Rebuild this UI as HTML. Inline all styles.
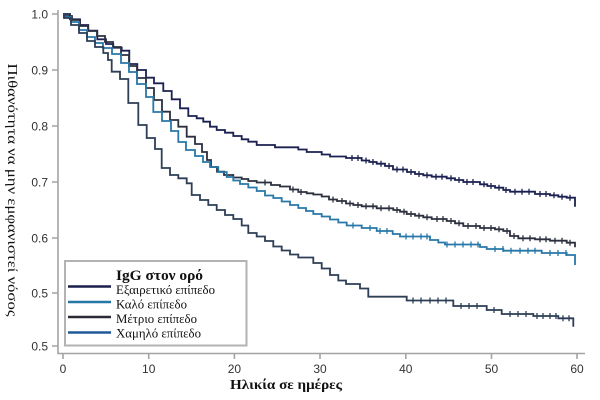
<!DOCTYPE html>
<html>
<head>
<meta charset="utf-8">
<style>
  html,body{margin:0;padding:0;background:#fff;}
  svg{display:block;}
  .tl{font-family:"Liberation Sans",sans-serif;font-size:12px;fill:#333;}
  .sf{font-family:"Liberation Serif",serif;fill:#111;}
</style>
</head>
<body>
<svg width="600" height="400" viewBox="0 0 600 400" xmlns="http://www.w3.org/2000/svg">
  <rect width="600" height="400" fill="#fff"/>

  <!-- axes -->
  <g stroke="#a3a3a3" stroke-width="1.6" fill="none">
    <path d="M58,10 V353.5 H585"/>
    <path d="M52,14 H58 M52,70 H58 M52,126 H58 M52,182 H58 M52,238 H58 M52,293 H58 M52,346 H58"/>
    <path d="M63,353 V359 M148.7,353 V359 M234.4,353 V359 M320,353 V359 M405.8,353 V359 M491.5,353 V359 M577,353 V359"/>
  </g>

  <!-- y tick labels -->
  <g class="tl" text-anchor="end">
    <text x="48" y="18.5">1.0</text>
    <text x="48" y="74.5">0.9</text>
    <text x="48" y="130.5">0.8</text>
    <text x="48" y="186.5">0.7</text>
    <text x="48" y="242.5">0.6</text>
    <text x="48" y="297.5">0.5</text>
    <text x="48" y="350.5">0.5</text>
  </g>
  <!-- x tick labels -->
  <g class="tl" text-anchor="middle">
    <text x="63" y="373">0</text>
    <text x="148.7" y="373">10</text>
    <text x="234.4" y="373">20</text>
    <text x="320" y="373">30</text>
    <text x="405.8" y="373">40</text>
    <text x="491.5" y="373">50</text>
    <text x="577" y="373">60</text>
  </g>

  <!-- axis titles -->
  <text class="sf" x="286" y="389" text-anchor="middle" font-size="13.5" font-weight="bold" textLength="112" lengthAdjust="spacingAndGlyphs">Ηλικία σε ημέρες</text>
  <text class="sf" transform="translate(8,190) rotate(90)" x="0" y="0" text-anchor="middle" font-size="13.5" textLength="253" lengthAdjust="spacingAndGlyphs">Πιθανότητα να μην εμφανιστεί νόσος</text>

  <!-- curves -->
  <g fill="none" stroke-width="1.8" stroke-linejoin="miter">
    <!-- Εξαιρετικό (navy) -->
    <path stroke="#1b2050" d="M63,14 H70 V19.3 H80 V25 H88.3 V30.7 H97.3 V39.3 H106 V44 H113.3 V47.7 H121.7 V50.7 H129.3 V64 H137.3 V70 H146 V77.7 H154 V83.3 H163.3 V91 H171.7 V99.3 H180 V108.3 H188.3 V116 H196.7 V118.3 H203.3 V121.7 H210 V126.7 H216.7 V130 H225 V132.7 H233.3 V136 H241.7 V139.3 H248.3 V141.7 H256.7 V145 H275 V147.3 H298.3 V149.5 H306.7 V152 H321.7 V154.5 H330 V156.5 H346 V158 H361.7 V160.5 H369.3 V162 H376.7 V163.7 H385 V166 H393 V169.5 H407 V172 H415 V174 H423.3 V175.3 H431.7 V176.7 H446.7 V178.3 H455 V180 H463.3 V182 H480 V184.3 H487.3 V186 H495 V187.7 H503.3 V190 H510 V191.7 H535 V194 H550 V195.3 H558.3 V196.7 H566.7 V197.7 H575 V206.7"/>
    <!-- Μέτριο (dark gray) -->
    <path stroke="#2c303e" d="M63,14 H64 V16 H72 V20 H80 V26 H88 V31 H97 V36 H105 V42 H113 V47 H121 V55 H129 V66 H137 V78 H146 V88 H154 V100 H162 V111.7 H170 V120 H178.3 V126.7 H186.7 V136.7 H195 V144 H202 V152 H207 V160 H211 V167 H217 V171.7 H224 V175 H233.3 V177.5 H241.7 V179 H248.3 V181 H256.7 V182.5 H271 V185 H280 V186.5 H290 V189.5 H298.3 V192 H306.7 V193.3 H313.3 V194.5 H321.7 V196.5 H329 V199.5 H337 V201 H346 V203.5 H353.3 V205 H361.7 V206.3 H376.7 V208.3 H393.3 V210 H400 V211.7 H406.7 V214 H415 V215.7 H423.3 V217.3 H431.7 V219 H446.7 V221 H455 V223.3 H463.3 V226 H480 V228 H495 V229.3 H503.3 V231 H510 V236 H518.3 V238.3 H535 V239.3 H550 V240.7 H566.7 V242.7 H575 V247.3"/>
    <!-- Καλό (light blue) -->
    <path stroke="#2778a8" d="M63,14 H64 V17 H71 V22 H79 V30 H87 V37 H95 V43 H103 V48 H112 V54 H121 V63 H129 V72 H137 V84 H146 V97 H153.3 V112 H162 V121 H171 V131 H178.3 V142 H186 V150 H195 V156 H203 V162 H210 V167 H218.3 V172 H226.7 V177 H233.3 V180.5 H240 V184 H248.3 V187.5 H256.7 V191 H265 V195.5 H273.3 V198 H281.7 V201.5 H290 V205 H298.3 V208 H306 V211 H313.3 V214 H321.7 V216.5 H330 V219.5 H338.3 V222.5 H346.7 V225.5 H361.7 V228 H376.7 V231 H392.7 V234 H400 V236.5 H430 V240 H438.3 V242.5 H445 V244.5 H480 V247 H486.7 V249 H503.3 V250.7 H541.7 V253 H566.7 V255 H575 V265"/>
    <!-- Χαμηλό (bottom) -->
    <path stroke="#2d3e56" d="M63,14 H64 V18 H71 V25 H79 V33 H87 V41 H95 V47 H103.3 V53 H108 V60 H111.7 V71.7 H120 V79 H128.3 V103 H138.3 V125 H146.7 V138 H155 V149 H161.7 V168 H170 V175 H178.3 V178.3 H186.7 V183.3 H191.7 V195 H200 V200 H208.3 V205 H216.7 V210 H225 V215 H233.3 V219 H241.7 V225.5 H248.3 V233 H256.7 V236.5 H265 V241 H273.3 V246.5 H281.7 V250.5 H290 V254.5 H298.3 V257.5 H313.3 V263 H321.7 V268.5 H330 V275 H338.3 V280.5 H346 V284 H360 V288.5 H368.3 V296.7 H406.7 V300.5 H453.3 V306 H486.7 V310 H501.7 V314 H533.3 V316 H558.3 V318.3 H573.3 V326.7"/>
  </g>

  <!-- censor ticks -->
  <g fill="none" stroke-width="1.3">
    <path stroke="#1b2050" d="M352,155v6M358,155v6M366,157.5v6M373,159v6M381,160.7v6M389,163v6M397,166.5v6M403,166.5v6M411,169v6M419,171v6M427,172.3v6M436,173.7v6M442,173.7v6M451,175.3v6M459,177v6M467,179v6M473,179v6M484,181.3v6M491,183v6M499,184.7v6M506,187v6M515,188.7v6M522,188.7v6M529,188.7v6M540,191v6M546,191v6M554,192.3v6M562,193.7v6M570,194.7v6"/>
    <path stroke="#2c303e" d="M265,179.5v6M293,186.5v6M301,189v6M333,196.5v6M342,198v6M350,200.5v6M358,202v6M366,203.3v6M373,203.3v6M381,205.3v6M389,205.3v6M397,207v6M404,208.7v6M411,211v6M419,212.7v6M427,214.3v6M437,216v6M443,216v6M451,218v6M459,220.3v6M468,223v6M476,223v6M484,225v6M491,225v6M499,226.3v6M507,228v6M514,233v6M523,235.3v6M530,235.3v6M540,236.3v6M546,236.3v6M555,237.7v6M562,237.7v6M570,239.7v6"/>
    <path stroke="#2778a8" d="M353,222.5v6M370,225v6M380,228v6M387,228v6M406,233.5v6M413,233.5v6M421,233.5v6M427,233.5v6M447,241.5v6M455,241.5v6M463,241.5v6M471,241.5v6M478,241.5v6M495,246v6M503,246v6M511,247.7v6M520,247.7v6M528,247.7v6M535,247.7v6M550,250v6M558,250v6M566,250v6"/>
    <path stroke="#2d3e56" d="M413,297.5v6M421,297.5v6M430,297.5v6M438,297.5v6M446,297.5v6M461,303v6M469,303v6M477,303v6M494,307v6M510,311v6M518,311v6M526,311v6M537,313v6M543,313v6M550,313v6M556,313v6M563,315.3v6M569,315.3v6"/>
  </g>

  <!-- legend -->
  <rect x="65" y="261" width="181.5" height="84.5" fill="#fff" stroke="#b3b3b3" stroke-width="2"/>
  <text class="sf" x="116" y="280" font-size="15" font-weight="bold" textLength="87" lengthAdjust="spacingAndGlyphs">IgG στον ορό</text>
  <g stroke-width="2.6">
    <line x1="68" y1="286.5" x2="111" y2="286.5" stroke="#1b1f4b"/>
    <line x1="68" y1="302" x2="111" y2="302" stroke="#2577a5"/>
    <line x1="68" y1="317" x2="111" y2="317" stroke="#2a2b35"/>
    <line x1="68" y1="332.5" x2="111" y2="332.5" stroke="#1f5a97"/>
  </g>
  <g class="sf" font-size="12.5">
    <text x="116" y="294" textLength="99" lengthAdjust="spacingAndGlyphs">Εξαιρετικό επίπεδο</text>
    <text x="116" y="308.5" textLength="71" lengthAdjust="spacingAndGlyphs">Καλό επίπεδο</text>
    <text x="116" y="323" textLength="81" lengthAdjust="spacingAndGlyphs">Μέτριο επίπεδο</text>
    <text x="116" y="337.5" textLength="85" lengthAdjust="spacingAndGlyphs">Χαμηλό επίπεδο</text>
  </g>
</svg>
</body>
</html>
